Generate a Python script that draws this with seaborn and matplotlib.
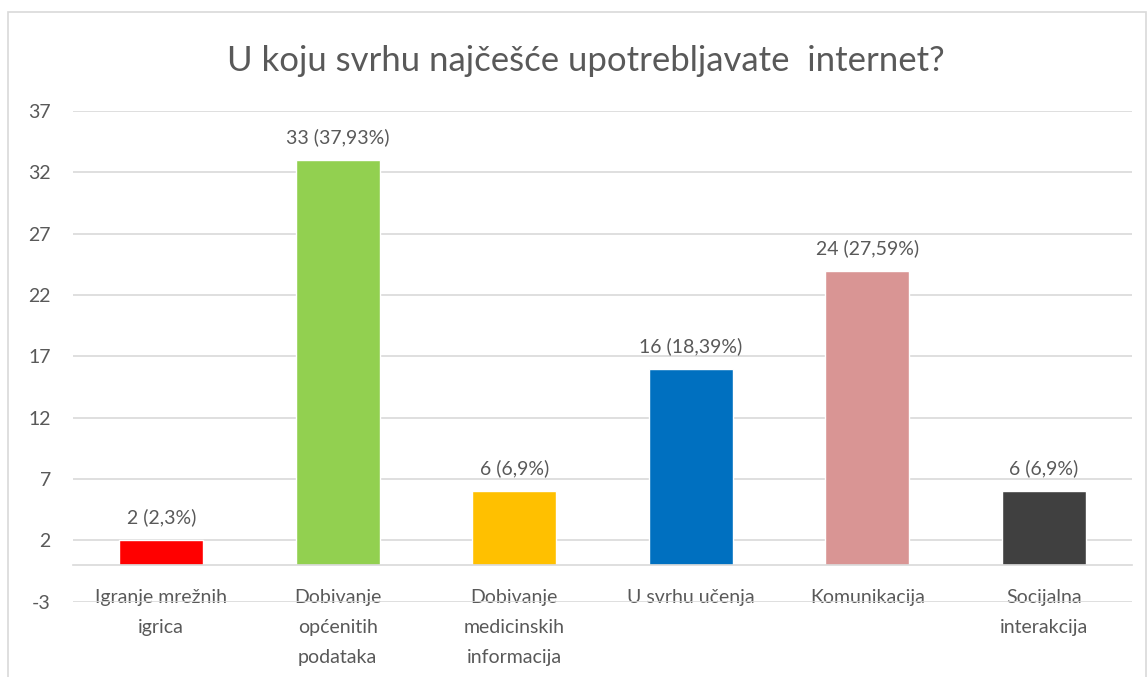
import pandas as pd
import matplotlib.pyplot as plt
import seaborn as sns
from matplotlib.patches import Rectangle

# data
categories = [
    "Igranje mrežnih\nigrica",
    "Dobivanje\nopćenitih\npodataka",
    "Dobivanje\nmedicinskih\ninformacija",
    "U svrhu učenja",
    "Komunikacija",
    "Socijalna\ninterakcija",
]
counts = [2, 33, 6, 16, 24, 6]
percents = [2.3, 37.93, 6.9, 18.39, 27.59, 6.9]
bar_colors = ["#FF0000", "#92D050", "#FFC000", "#0070C0", "#D99594", "#404040"]
y_ticks = [-3, 2, 7, 12, 17, 22, 27, 32, 37]

TEXT = "#595959"
GRID = "#D9D9D9"


def main() -> None:
    df = pd.DataFrame({"category": categories, "count": counts})

    sns.set_style("white")
    plt.rcParams["font.family"] = ["Lato", "DejaVu Sans"]
    plt.rcParams["axes.unicode_minus"] = False

    fig = plt.figure(figsize=(11.48, 6.77), dpi=100)
    ax = fig.add_axes([0.0636, 0.111, 0.9224, 0.725])

    sns.barplot(
        data=df,
        x="category",
        y="count",
        hue="category",
        palette=bar_colors,
        legend=False,
        width=0.475,
        saturation=1,
        ax=ax,
    )

    labels = [f"{c} ({f'{p:g}'.replace('.', ',')}%)" for c, p in zip(counts, percents)]
    for container, lab in zip(ax.containers, labels):
        ax.bar_label(container, labels=[lab], padding=10, fontsize=14, color=TEXT)

    ax.set_ylim(-3, 37)
    ax.set_xlim(-0.5, len(categories) - 0.5)
    ax.set_yticks(y_ticks)
    ax.yaxis.grid(True, color=GRID, linewidth=1.2)
    ax.set_axisbelow(True)

    for side in ["top", "right", "left"]:
        ax.spines[side].set_visible(False)
    ax.spines["bottom"].set_position(("data", 0))
    ax.spines["bottom"].set_color(GRID)
    ax.spines["bottom"].set_linewidth(1.2)

    ax.set_xticks(range(len(categories)))
    ax.set_xticklabels(categories, linespacing=1.95)
    ax.set_xticks([i - 0.5 for i in range(len(categories) + 1)], minor=True)
    ax.tick_params(axis="x", which="major", length=0, pad=17, labelsize=14, colors=TEXT)
    ax.tick_params(axis="x", which="minor", length=6, width=1.2, color=GRID, direction="out")
    ax.tick_params(axis="y", length=0, pad=16, labelsize=14, colors=TEXT)
    ax.set_xlabel("")
    ax.set_ylabel("")

    fig.text(0.51, 0.91, "U koju svrhu najčešće upotrebljavate  internet?",
             ha="center", va="center", fontsize=25, color=TEXT)

    # chart area border
    fig.patches.append(Rectangle((8 / 1148, -0.02), 1138 / 1148, 1 - 12 / 677 + 0.02,
                                 transform=fig.transFigure, fill=False,
                                 edgecolor=GRID, linewidth=1.2))

    fig.savefig("out.png", dpi=100)


if __name__ == "__main__":
    main()
